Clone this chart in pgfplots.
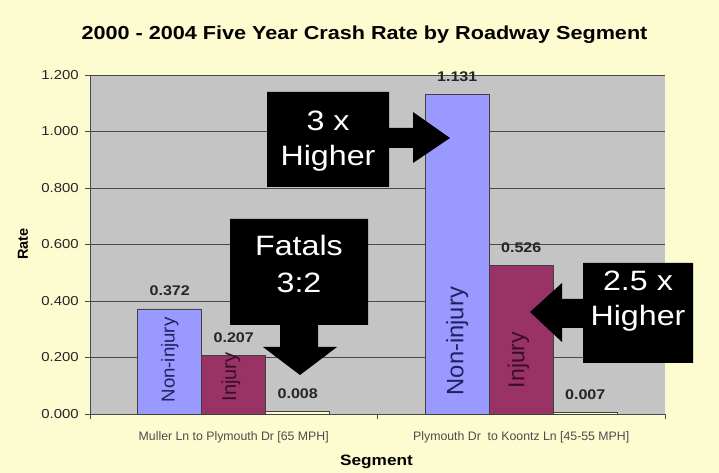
\documentclass[border=0pt]{standalone}
\usepackage{pgfplots}
\pgfplotsset{compat=1.18}
\usepackage{fontspec}
\setmainfont{Liberation Sans}[FakeStretch=1.15]
\newfontfamily\plainfont{Liberation Sans}
\definecolor{bgyellow}{HTML}{FDFBD0}
\definecolor{plotgray}{HTML}{C4C4C4}
\definecolor{noninj}{HTML}{9999FF}
\definecolor{inj}{HTML}{993366}
\definecolor{fatal}{HTML}{FFFFCC}
\definecolor{gridc}{HTML}{4A4A4A}
\definecolor{navytext}{HTML}{20205E}
\definecolor{injtext}{HTML}{3A0C2C}
\newcommand\fs[2]{\fontsize{#1bp}{#2bp}\selectfont}
\pgfkeys{/pgf/number format/assume math mode=true}
\begin{document}
\begin{tikzpicture}
\fill[bgyellow] (0bp,0bp) rectangle (719bp,473bp);
\useasboundingbox (0bp,0bp) rectangle (719bp,473bp);
\begin{axis}[
  at={(90bp,59bp)}, anchor=south west,
  scale only axis, width=575bp, height=339bp,
  xmin=-0.5, xmax=1.5, ymin=0, ymax=1.2,
  ybar=0pt, bar width=64bp,
  axis background/.style={fill=plotgray},
  axis x line*=bottom, axis y line*=left,
  axis line style={draw=gridc, line width=0.8bp},
  ymajorgrids, grid style={draw=gridc, line width=0.8bp},
  ytick={0,0.2,0.4,0.6,0.8,1.0,1.2},
  yticklabel style={/pgf/number format/fixed, /pgf/number format/fixed zerofill, /pgf/number format/precision=3, /pgf/number format/assume math mode=true},
  yticklabel style={font=\fs{13}{15}, text=black!85, anchor=east, inner sep=0pt, xshift=-6bp},
  xtick={-0.5,0.5,1.5}, xticklabels={,,},
  extra x ticks={0,1},
  extra x tick labels={Muller Ln to Plymouth Dr [65 MPH], Plymouth Dr\ \ to Koontz Ln [45-55 MPH]},
  extra x tick style={major tick length=0pt, xticklabel style={font=\plainfont\fs{12.3}{14}, text=black!70, anchor=base, inner sep=0pt, yshift=-26bp}},
  tick align=outside, major tick length=5bp,
  tick style={draw=gridc, line width=0.8bp},
  nodes near coords={\pgfmathprintnumber[fixed,fixed zerofill,precision=3]{\pgfplotspointmeta}},
  every node near coord/.append style={font=\bfseries\fs{14}{16}, text=black!85, anchor=base, yshift=13bp, inner sep=0pt},
  clip=false,
]
\addplot[fill=noninj, draw=black!75, line width=0.6bp] coordinates {(0,0.372) (1,1.131)};
\addplot[fill=inj, draw=black!75, line width=0.6bp] coordinates {(0,0.207) (1,0.526)};
\addplot[fill=fatal, draw=black!75, line width=0.6bp] coordinates {(0,0.008) (1,0.007)};
\node[rotate=90, font=\plainfont\fs{18.6}{20}, text=navytext] at (axis cs:-0.2226,0.191) {Non-injury};
\node[rotate=90, font=\plainfont\fs{20}{22}, text=injtext] at (axis cs:-0.01,0.131) {Injury};
\node[rotate=90, font=\plainfont\fs{23.7}{25}, text=navytext] at (axis cs:0.7774,0.258) {Non-injury};
\node[rotate=90, font=\plainfont\fs{23}{25}, text=injtext] at (axis cs:0.99,0.191) {Injury};
\end{axis}
\begin{scope}[x=1bp,y=1bp]
\node[font=\bfseries\fs{18.8}{20}, anchor=base] at (364.5,433) {2000 - 2004 Five Year Crash Rate by Roadway Segment};
\node[font=\bfseries\fs{15}{17}, anchor=base] at (376.5,8) {Segment};
\node[font=\plainfont\bfseries\fs{14.5}{16}, rotate=90] at (23,229) {Rate};
% 3 x Higher
\fill[black] (267,381) -- (389,381) -- (389,345) -- (413,345) -- (413,361) -- (450,335) -- (413,310) -- (413,325) -- (389,325) -- (389,286) -- (267,286) -- cycle;
\node[text=white, font=\fs{28}{35}, align=center] at (328,332) {3 x\\Higher};
% Fatals 3:2
\fill[black] (230,254) -- (368,254) -- (368,148) -- (318,148) -- (318,126) -- (337,126) -- (300,98) -- (263,126) -- (280,126) -- (280,148) -- (230,148) -- cycle;
\node[text=white, font=\fs{28}{37}, align=center] at (299,209) {Fatals\\3:2};
% 2.5 x Higher
\fill[black] (583,210) -- (693,210) -- (693,110) -- (583,110) -- (583,145) -- (562,145) -- (562,131) -- (530,161) -- (562,190) -- (562,174) -- (583,174) -- cycle;
\node[text=white, font=\fs{28}{35}, align=center] at (638,172) {2.5 x\\Higher};
\end{scope}
\end{tikzpicture}
\end{document}
